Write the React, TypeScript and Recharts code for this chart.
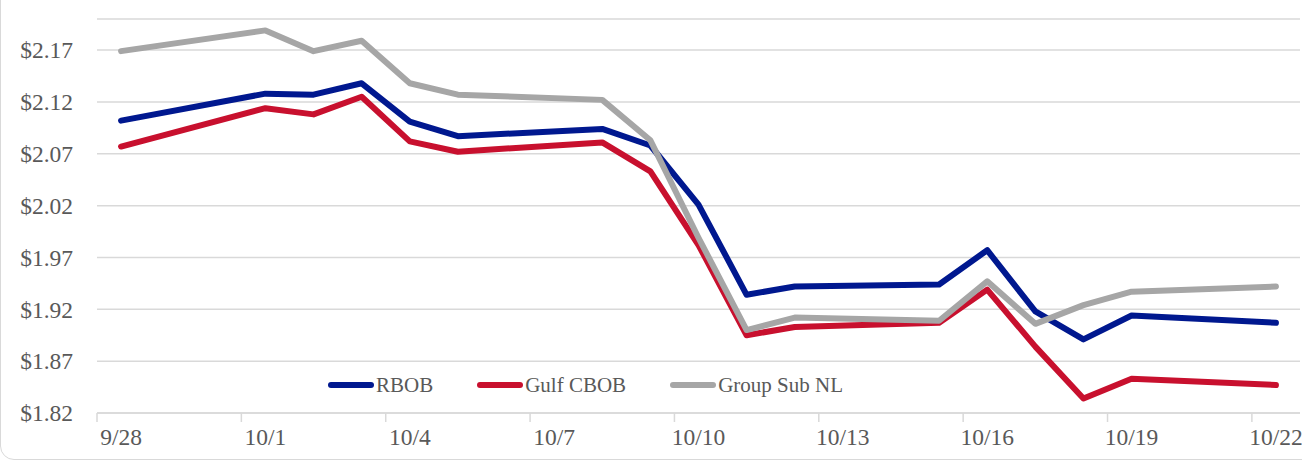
import React from "react";
import { LineChart, Line, XAxis, YAxis, CartesianGrid } from "recharts";

// ---- data ----
const dates = ["9/28", "10/1", "10/2", "10/3", "10/4", "10/5", "10/8", "10/9", "10/10", "10/11", "10/12", "10/15", "10/16", "10/17", "10/18", "10/19", "10/22"];
const rbob = [2.102, 2.128, 2.127, 2.138, 2.101, 2.087, 2.094, 2.078, 2.021, 1.934, 1.942, 1.944, 1.977, 1.918, 1.891, 1.914, 1.907];
const gulfCbob = [2.077, 2.114, 2.108, 2.125, 2.082, 2.072, 2.081, 2.053, 1.982, 1.895, 1.903, 1.907, 1.939, 1.884, 1.834, 1.853, 1.847];
const groupSubNl = [2.169, 2.189, 2.169, 2.179, 2.138, 2.127, 2.122, 2.083, 1.989, 1.900, 1.912, 1.909, 1.947, 1.906, 1.924, 1.937, 1.942];
const xTickLabels = ["9/28", "10/1", "10/4", "10/7", "10/10", "10/13", "10/16", "10/19", "10/22"];
const yTicks = [1.82, 1.87, 1.92, 1.97, 2.02, 2.07, 2.12, 2.17];

const seriesNames = ["RBOB", "Gulf CBOB", "Group Sub NL"];
const colors = ["#00188F", "#C8102E", "#A6A6A6"];

// day offset from 9/28
const dayOffset = (s: string) => {
  const [m, d] = s.split("/").map(Number);
  return m === 9 ? d - 28 : d + 2;
};

const data = dates.map((d, i) => ({
  day: dayOffset(d),
  RBOB: rbob[i],
  "Gulf CBOB": gulfCbob[i],
  "Group Sub NL": groupSubNl[i],
}));

// tick marks sit on slot boundaries; labels centred in the date's slot
const xTicks = xTickLabels.map((l) => dayOffset(l) - 0.5);

const W = 1302;
const H = 463;
const LEFT = 97;
const RIGHT_MARGIN = 2;
const DAYS = 25;
const halfDay = (W - LEFT - RIGHT_MARGIN) / DAYS / 2;

const FONT = "'Liberation Serif', 'DejaVu Serif', serif";
const TEXT = "#595959";
const TICK_FS = 23.5;

const XTick = (props: any) => {
  const { x, y, payload } = props;
  const idx = xTicks.indexOf(payload.value);
  const label = idx >= 0 ? xTickLabels[idx] : "";
  return (
    <text x={x + halfDay} y={y} dy="0.71em" textAnchor="middle" fill={TEXT} fontSize={TICK_FS} fontFamily={FONT}>
      {label}
    </text>
  );
};

const YTick = (props: any) => {
  const { x, y, payload } = props;
  return (
    <text x={x} y={y} dy="0.35em" textAnchor="end" fill={TEXT} fontSize={TICK_FS} fontFamily={FONT}>
      {`$${Number(payload.value).toFixed(2)}`}
    </text>
  );
};

const LegendBox = () => (
  <div
    style={{
      position: "absolute",
      left: 328,
      top: 371,
      display: "flex",
      alignItems: "center",
      fontFamily: FONT,
      fontSize: 21,
      color: TEXT,
      whiteSpace: "nowrap",
      lineHeight: "28px",
    }}
  >
    {seriesNames.map((n, i) => (
      <div key={n} style={{ display: "flex", alignItems: "center", marginRight: i < 2 ? 44 : 0 }}>
        <div style={{ width: 46, height: 6.5, borderRadius: 3.25, background: colors[i], marginRight: 2 }} />
        <span>{n}</span>
      </div>
    ))}
  </div>
);

export default function App() {
  return (
    <div style={{ position: "absolute", left: 0, top: 0, width: W, height: H, overflow: "hidden", background: "#fff" }}>
      <div
        style={{
          position: "absolute",
          left: 0,
          top: -30,
          width: W + 30,
          height: H + 30 - 3,
          border: "1.5px solid #D9D9D9",
          borderRadius: 14,
          boxSizing: "border-box",
        }}
      />
      <div style={{ position: "absolute", left: 0, top: 0 }}>
        <LineChart width={W} height={H} data={data} margin={{ top: 19, right: RIGHT_MARGIN, bottom: 0, left: 0 }}>
          <CartesianGrid vertical={false} stroke="#D9D9D9" strokeWidth={1.5} />
          <XAxis
            dataKey="day"
            type="number"
            domain={[-0.5, 24.5]}
            ticks={xTicks}
            interval={0}
            height={50}
            tick={<XTick />}
            tickSize={9}
            tickMargin={6}
            axisLine={{ stroke: "#D9D9D9", strokeWidth: 1.5 }}
            tickLine={{ stroke: "#D9D9D9", strokeWidth: 1.5 }}
            allowDataOverflow
          />
          <YAxis
            type="number"
            domain={[1.82, 2.2]}
            ticks={yTicks}
            interval={0}
            width={LEFT}
            axisLine={false}
            tickLine={false}
            tickSize={0}
            tickMargin={24}
            allowDataOverflow
            tick={<YTick />}
          />
          {seriesNames.map((n, i) => (
            <Line
              key={n}
              type="linear"
              dataKey={n}
              stroke={colors[i]}
              strokeWidth={6}
              strokeLinecap="round"
              strokeLinejoin="round"
              dot={false}
              activeDot={false}
              isAnimationActive={false}
            />
          ))}
        </LineChart>
      </div>
      <LegendBox />
    </div>
  );
}
